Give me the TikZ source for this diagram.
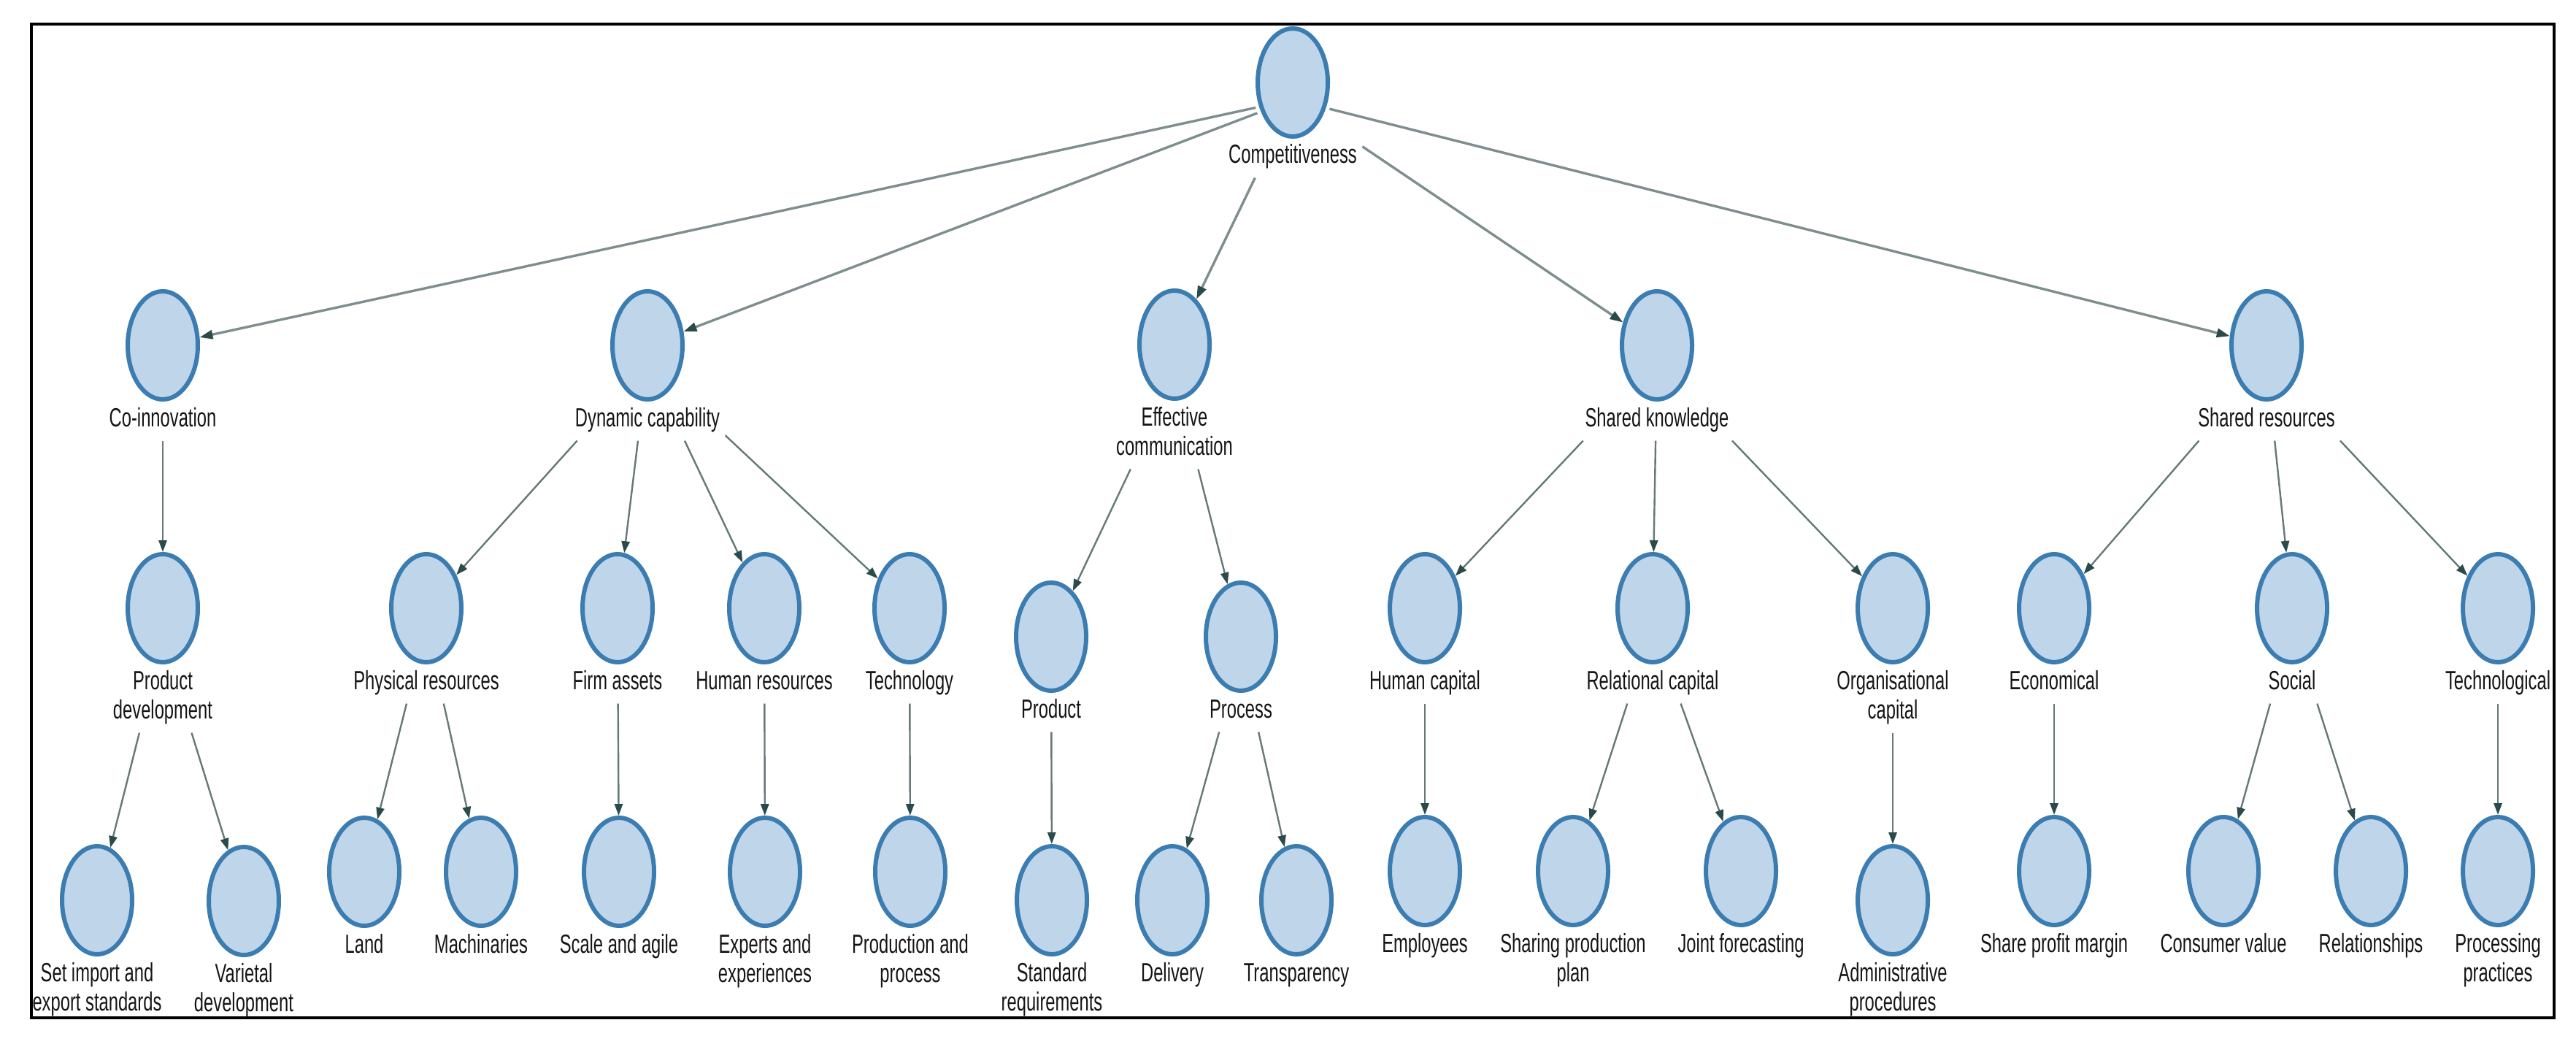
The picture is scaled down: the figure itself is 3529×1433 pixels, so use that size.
\documentclass[tikz,border=0pt]{standalone}
\usepackage{fontspec}
\newfontfamily\labfont{Liberation Sans}[FakeStretch=0.66]
\usetikzlibrary{shapes.geometric,arrows.meta,fit,calc}
\definecolor{cfill}{HTML}{BFD5EA}
\definecolor{cline}{HTML}{3C7DB1}
\definecolor{eline}{HTML}{667878}
\definecolor{etop}{HTML}{7E8E8E}
\definecolor{earrow}{HTML}{2B4A4A}
\definecolor{txt}{HTML}{141414}
\newcommand\mknode[4]{%
  \node[circ] (#1) at (#2,#3) {};
  \node[lab] (#1L) at (#2,#3+111) {\begin{tabular}[t]{@{}c@{}}#4\end{tabular}};
  \node[fitbox, fit=(#1)(#1L)] (#1F) {};
}
\begin{document}
\begin{tikzpicture}[x=0.25pt,y=-0.25pt,
  circ/.style={ellipse, draw=cline, fill=cfill, line width=1.5pt,
    minimum width=24pt, minimum height=37pt, inner sep=0pt},
  lab/.style={anchor=base, inner sep=0pt, text=txt,
    font=\labfont\fontsize{9}{10}\selectfont},
  fitbox/.style={rectangle, draw=none, inner sep=1.5pt},
  edge/.style={draw=eline, line width=0.6pt,
    -{Triangle[length=4pt,width=2.8pt,color=earrow]}},
  topedge/.style={draw=etop, line width=0.85pt,
    -{Triangle[length=4.5pt,width=3pt,color=earrow]}}
]
\useasboundingbox (0,0) rectangle (3529,1433);
\draw[line width=1pt] (43,33) rectangle (3499,1394);

% level 1
\mknode{comp}{1771}{113}{Competitiveness}
% level 2
\mknode{coin}{223}{473}{Co-innovation}
\mknode{dyn}{887}{473}{Dynamic capability}
\mknode{eff}{1609}{472}{Effective\\communication}
\mknode{sk}{2270}{473}{Shared knowledge}
\mknode{sr}{3105}{473}{Shared resources}
% level 3
\mknode{pd}{223}{833}{Product\\development}
\mknode{phys}{584}{833}{Physical resources}
\mknode{firm}{846}{833}{Firm assets}
\mknode{hum}{1047}{833}{Human resources}
\mknode{tech}{1246}{833}{Technology}
\mknode{prod}{1440}{872}{Product}
\mknode{proc}{1700}{872}{Process}
\mknode{hc}{1952}{833}{Human capital}
\mknode{rc}{2264}{833}{Relational capital}
\mknode{oc}{2593}{833}{Organisational\\capital}
\mknode{econ}{2814}{833}{Economical}
\mknode{soc}{3140}{833}{Social}
\mknode{techn}{3422}{833}{Technological}
% level 4
\mknode{sies}{133}{1233}{Set import and\\export standards}
\mknode{var}{334}{1234}{Varietal\\development}
\mknode{land}{499}{1194}{Land}
\mknode{mach}{659}{1194}{Machinaries}
\mknode{scale}{848}{1194}{Scale and agile}
\mknode{exp}{1048}{1194}{Experts and\\experiences}
\mknode{pprc}{1247}{1194}{Production and\\process}
\mknode{stdr}{1441}{1233}{Standard\\requirements}
\mknode{deliv}{1606}{1233}{Delivery}
\mknode{transp}{1776}{1233}{Transparency}
\mknode{empl}{1952}{1193}{Employees}
\mknode{spp}{2155}{1193}{Sharing production\\plan}
\mknode{jf}{2385}{1193}{Joint forecasting}
\mknode{admin}{2593}{1233}{Administrative\\procedures}
\mknode{spm}{2814}{1193}{Share profit margin}
\mknode{cv}{3046}{1193}{Consumer value}
\mknode{rel}{3248}{1193}{Relationships}
\mknode{ppr}{3422}{1193}{Processing\\practices}

% edges
\foreach \c in {coin,dyn,sr} \draw[topedge, shorten <=13pt] (compF.center) -- (\c);
\foreach \c in {eff,sk} \draw[topedge] (compF) -- (\c);
\draw[edge] (coinF) -- (pd);
\draw[edge] (pdF) -- (sies);
\draw[edge] (pdF) -- (var);
\foreach \c in {phys,firm,hum,tech} \draw[edge] (dynF) -- (\c);
\draw[edge] (physF) -- (land);
\draw[edge] (physF) -- (mach);
\draw[edge] (firmF) -- (scale);
\draw[edge] (humF) -- (exp);
\draw[edge] (techF) -- (pprc);
\draw[edge] (effF) -- (prod);
\draw[edge] (effF) -- (proc);
\draw[edge] (prodF) -- (stdr);
\draw[edge] (procF) -- (deliv);
\draw[edge] (procF) -- (transp);
\foreach \c in {hc,rc,oc} \draw[edge] (skF) -- (\c);
\draw[edge] (hcF) -- (empl);
\draw[edge] (rcF) -- (spp);
\draw[edge] (rcF) -- (jf);
\draw[edge] (ocF) -- (admin);
\foreach \c in {econ,soc,techn} \draw[edge] (srF) -- (\c);
\draw[edge] (econF) -- (spm);
\draw[edge] (socF) -- (cv);
\draw[edge] (socF) -- (rel);
\draw[edge] (technF) -- (ppr);
\end{tikzpicture}
\end{document}
